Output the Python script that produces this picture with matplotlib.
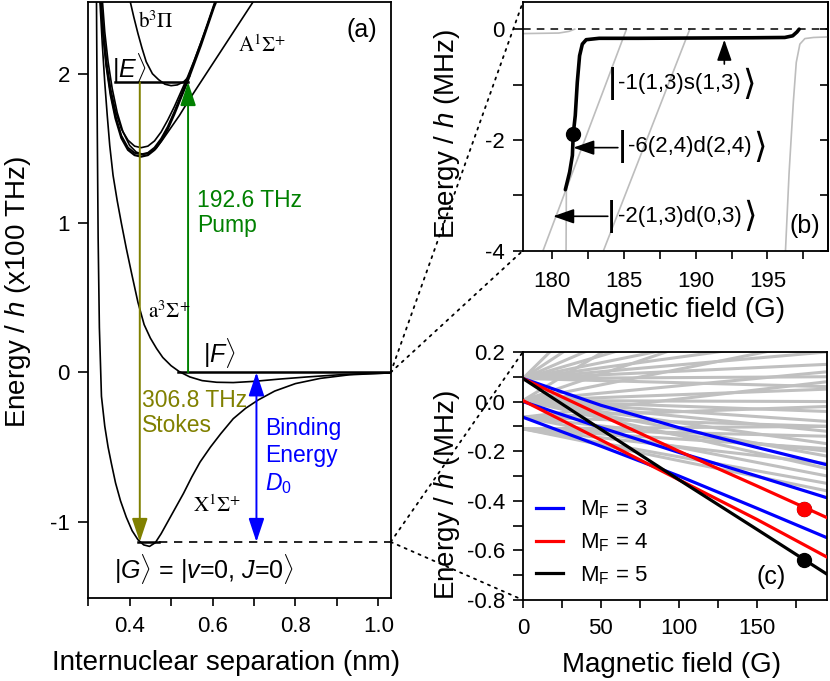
import matplotlib
matplotlib.use("Agg")
import matplotlib.pyplot as plt
from matplotlib.patches import ConnectionPatch
from matplotlib.offsetbox import TextArea, HPacker, AnnotationBbox
from matplotlib.ticker import MultipleLocator, FormatStrFormatter

plt.rcParams["font.family"] = ["Liberation Sans", "DejaVu Sans"]
plt.rcParams["mathtext.fontset"] = "custom"
plt.rcParams["mathtext.rm"] = "Liberation Sans"
plt.rcParams["mathtext.it"] = "Liberation Sans:italic"
plt.rcParams["mathtext.bf"] = "Liberation Sans:bold"
plt.rcParams["axes.unicode_minus"] = False
plt.rcParams["font.size"] = 16

# ---------------- panel (a): potential curves (x100 THz vs nm) ----------------
x_state_r = [0.320, 0.322, 0.324, 0.327, 0.332, 0.340, 0.348, 0.356, 0.366, 0.378,
             0.392, 0.406, 0.420, 0.434, 0.448, 0.462, 0.476, 0.492, 0.510, 0.530,
             0.550, 0.570, 0.595, 0.620, 0.650, 0.680, 0.710, 0.750, 0.800, 0.860,
             0.930, 1.030]
x_state_e = [2.50, 1.60, 0.90, 0.30, -0.16, -0.36, -0.50, -0.61, -0.74, -0.86,
             -0.97, -1.06, -1.12, -1.155, -1.165, -1.14, -1.08, -1.00, -0.91, -0.81,
             -0.70, -0.60, -0.50, -0.41, -0.31, -0.24, -0.185, -0.125, -0.075, -0.040,
             -0.016, -0.003]

a_state_r = [0.328, 0.334, 0.340, 0.346, 0.352, 0.360, 0.370, 0.380, 0.392, 0.405,
             0.420, 0.435, 0.450, 0.465, 0.480, 0.500, 0.520, 0.545, 0.575, 0.610,
             0.650, 0.700, 0.760, 0.830, 0.900, 0.970, 1.030]
a_state_e = [2.50, 2.20, 1.94, 1.72, 1.52, 1.32, 1.15, 1.00, 0.83, 0.66,
             0.47, 0.32, 0.23, 0.16, 0.10, 0.045, 0.005, -0.03, -0.055, -0.066,
             -0.068, -0.060, -0.045, -0.030, -0.017, -0.008, -0.004]

A_state_r = [0.334, 0.340, 0.348, 0.358, 0.370, 0.384, 0.400, 0.416, 0.432, 0.448,
             0.464, 0.480, 0.500, 0.520, 0.540, 0.580, 0.620, 0.660, 0.700, 0.710]
A_state_e = [2.50, 2.28, 2.08, 1.90, 1.74, 1.61, 1.52, 1.475, 1.46, 1.47,
             1.50, 1.56, 1.64, 1.72, 1.81, 1.98, 2.15, 2.32, 2.49, 2.53]

b_comp_r = [0.330, 0.336, 0.344, 0.354, 0.366, 0.380, 0.396, 0.412, 0.428, 0.444,
            0.460, 0.476, 0.492, 0.508, 0.524, 0.540, 0.556, 0.572, 0.588, 0.604, 0.616]
b_comp1_e = [2.50, 2.27, 2.05, 1.86, 1.70, 1.57, 1.49, 1.455, 1.445, 1.455,
             1.49, 1.55, 1.63, 1.73, 1.84, 1.95, 2.07, 2.19, 2.32, 2.45, 2.53]
b_comp2_e = [2.51, 2.28, 2.06, 1.875, 1.715, 1.585, 1.505, 1.47, 1.46, 1.47,
             1.505, 1.565, 1.645, 1.745, 1.855, 1.965, 2.085, 2.205, 2.335, 2.465, 2.545]
b_comp3_e = [2.50, 2.29, 2.08, 1.90, 1.75, 1.63, 1.555, 1.515, 1.505, 1.515,
             1.55, 1.61, 1.69, 1.78, 1.88, 1.98, 2.09, 2.21, 2.33, 2.46, 2.54]

b_pi_r = [0.400, 0.410, 0.420, 0.430, 0.440, 0.455, 0.470, 0.485, 0.500, 0.515, 0.530, 0.545]
b_pi_e = [2.50, 2.38, 2.27, 2.17, 2.08, 2.00, 1.96, 1.93, 1.92, 1.925, 1.945, 1.985]

level_E = 1.944
level_E_r = [0.364, 0.541]
level_F = 0.0
level_F_r = [0.517, 1.03]
level_G = -1.135
level_G_solid_r = [0.42, 0.47]
level_G_dash_r = [0.47, 1.03]
stokes_r = 0.4245
pump_r = 0.541
binding_r = 0.706

# ---------------- panel (b): Feshbach ramp near 181 G ----------------
b_main_field = [180.95, 181.25, 181.44, 181.5, 181.64, 181.78, 181.94, 182.13, 182.4,
                183.3, 186.0, 190.0, 194.0, 196.2, 196.75, 197.05, 197.2]
b_main_energy = [-2.90, -2.58, -2.28, -1.89, -1.56, -0.96, -0.48, -0.27, -0.19,
                 -0.165, -0.165, -0.16, -0.155, -0.15, -0.12, -0.05, 0.0]
b_gray_fields = [[178.0, 180.5, 181.2, 181.6],
                 [179.4, 185.2],
                 [181.0, 181.02],
                 [183.6, 189.6],
                 [196.25, 196.5, 196.8, 197.0, 197.25, 197.6, 198.2, 199.2]]
b_gray_energies = [[-0.08, -0.07, -0.04, 0.0],
                   [-4.0, 0.0],
                   [-4.0, -2.9],
                   [-4.0, 0.0],
                   [-4.0, -2.6, -1.3, -0.6, -0.27, -0.17, -0.15, -0.14]]
b_dot = (181.5, -1.89)
b_state_names = ["-1(1,3)s(1,3)", "-6(2,4)d(2,4)", "-2(1,3)d(0,3)"]
b_state_pos = [(183.9, -0.99), (184.6, -2.12), (183.85, -3.38)]

# ---------------- panel (c): Zeeman levels ----------------
c_field = [0, 50, 100, 150, 195]
mf3_energies = [[0.093, -0.015, -0.105, -0.185, -0.255],
                [0.000, -0.105, -0.205, -0.300, -0.388],
                [-0.063, -0.180, -0.300, -0.430, -0.549]]
mf4_energies = [[0.093, -0.055, -0.200, -0.340, -0.468],
                [0.004, -0.155, -0.315, -0.475, -0.627]]
mf5_energies = [0.093, -0.112, -0.315, -0.515, -0.696]
c_gray_field = [0, 195]
c_gray_start = [0.093] * 10 + [0.004] * 12 + [-0.063] * 5 + [-0.11] * 6
c_gray_end = [1.30, 0.90, 0.62, 0.45, 0.34, 0.26, 0.20, 0.15, 0.10, 0.06,
              0.75, 0.42, 0.25, 0.12, 0.05, 0.0, -0.04, -0.08, -0.12, -0.17, -0.22, -0.27,
              0.08, -0.02, -0.10, -0.20, -0.30,
              -0.10, -0.14, -0.19, -0.25, -0.33, -0.36]
c_dot_field = [180.5, 180.5]
c_dot_energy = [-0.432, -0.638]

fig = plt.figure(figsize=(8.3, 6.81), dpi=100)
ax_a = fig.add_axes([0.106, 0.122, 0.365, 0.875])
ax_b = fig.add_axes([0.630, 0.632, 0.3675, 0.365])
ax_c = fig.add_axes([0.630, 0.119, 0.3663, 0.3642])


def style(ax, xpad=7):
    for sp in ax.spines.values():
        sp.set_linewidth(1.3)
    ax.tick_params(which="both", direction="out", length=6.5, width=1.2,
                   labelsize=16, top=False, right=False)
    ax.tick_params(axis="x", which="both", pad=xpad, length=6)
    ax.tick_params(axis="y", which="both", pad=6, length=7)


def ket(ax, name, xy):
    # tall bar and bracket around the state label
    parts = [TextArea("|", textprops=dict(fontsize=25)),
             TextArea(name, textprops=dict(fontsize=16)),
             TextArea("\u27e9", textprops=dict(fontsize=25, family="DejaVu Sans"))]
    box = HPacker(children=parts, align="center", pad=0, sep=1)
    ab = AnnotationBbox(box, xy, xycoords="data", box_alignment=(0, 0.5),
                        frameon=False, pad=0)
    ax.add_artist(ab)


# ---- (a)
lw = 1.2
ax_a.plot(x_state_r, x_state_e, color="k", lw=lw)
ax_a.plot(a_state_r, a_state_e, color="k", lw=lw)
ax_a.plot(A_state_r, A_state_e, color="k", lw=lw)
ax_a.plot(b_comp_r, b_comp1_e, color="k", lw=1.6)
ax_a.plot(b_comp_r, b_comp2_e, color="k", lw=1.4)
ax_a.plot(b_comp_r, b_comp3_e, color="k", lw=lw)
ax_a.plot(b_pi_r, b_pi_e, color="k", lw=lw)
ax_a.plot(level_E_r, [level_E, level_E], color="k", lw=1.8)
ax_a.plot(level_F_r, [level_F, level_F], color="k", lw=1.8)
ax_a.plot(level_G_solid_r, [level_G, level_G], color="k", lw=1.8)
ax_a.plot(level_G_dash_r, [level_G, level_G], color="k", lw=1.2, ls=(0, (5, 4)))

ax_a.annotate("", xy=(stokes_r, level_G), xytext=(stokes_r, level_E),
              arrowprops=dict(arrowstyle="-|>,head_length=0.9,head_width=0.3",
                              color="#808000", lw=1.4, shrinkA=0, shrinkB=0))
ax_a.annotate("", xy=(pump_r, level_E), xytext=(pump_r, level_F),
              arrowprops=dict(arrowstyle="-|>,head_length=0.9,head_width=0.3",
                              color="#008000", lw=1.4, shrinkA=0, shrinkB=0))
ax_a.annotate("", xy=(binding_r, level_G), xytext=(binding_r, level_F),
              arrowprops=dict(arrowstyle="<|-|>,head_length=0.9,head_width=0.3",
                              color="#0000ff", lw=1.4, shrinkA=0, shrinkB=0))

ax_a.text(0.562, 1.23, "192.6 THz\nPump", color="#008000", fontsize=16.5,
          va="top", ha="left", linespacing=1.1)
ax_a.text(0.430, -0.114, "306.8 THz\nStokes", color="#808000", fontsize=16.5,
          va="top", ha="left", linespacing=1.1)
ax_a.text(0.727, -0.30, "Binding\nEnergy\n$D_{\\mathit{0}}$", color="#0000ff",
          fontsize=16.5, va="top", ha="left", linespacing=1.2)

serif = dict(math_fontfamily="stix", fontsize=15, va="center", ha="left")
ax_a.text(0.420, 2.35, r"$\mathrm{b}^{3}\Pi$", **serif)
ax_a.text(0.661, 2.19, r"$\mathrm{A}^{1}\Sigma^{+}$", **serif)
ax_a.text(0.445, 0.41, r"$\mathrm{a}^{3}\Sigma^{+}$", **serif)
ax_a.text(0.553, -0.886, r"$\mathrm{X}^{1}\Sigma^{+}$", **serif)
ax_a.text(0.358, 2.04, r"$|E\rangle$", fontsize=18, va="center", ha="left")
ax_a.text(0.577, 0.13, r"$|F\rangle$", fontsize=18, va="center", ha="left")
ax_a.text(0.362, -1.315, r"$|G\rangle$ = $|v$=$\mathit{0}$, $J$=$\mathit{0}\rangle$",
          fontsize=18, va="center", ha="left")
ax_a.text(0.904, 0.953, "(a)", transform=ax_a.transAxes, fontsize=18,
          ha="center", va="center")

ax_a.set_xlim(0.2995, 1.0305)
ax_a.set_ylim(-1.51, 2.48)
ax_a.xaxis.set_major_locator(MultipleLocator(0.2))
ax_a.xaxis.set_minor_locator(MultipleLocator(0.1))
ax_a.xaxis.set_major_formatter(FormatStrFormatter("%.1f"))
ax_a.set_yticks([-1, 0, 1, 2])
style(ax_a)
ax_a.set_xlabel("Internuclear separation (nm)", fontsize=20)
ax_a.set_ylabel("Energy / $h$ (x100 THz)", fontsize=20)
ax_a.xaxis.set_label_coords(0.455, -0.088)
ax_a.yaxis.set_label_coords(-0.18, 0.513)

# ---- (b)
for f, e in zip(b_gray_fields, b_gray_energies):
    ax_b.plot(f, e, color="#bdbdbd", lw=1.2, zorder=1)
ax_b.axhline(0, color="k", lw=1.1, ls=(0, (5, 4)), zorder=2)
ax_b.plot(b_main_field, b_main_energy, color="k", lw=2.6, zorder=3,
          solid_capstyle="round")
ax_b.plot([b_dot[0]], [b_dot[1]], "o", color="k", ms=10, zorder=4)

arrow_kw = dict(arrowstyle="-|>,head_length=0.8,head_width=0.28", color="k",
                lw=1.2, shrinkA=0, shrinkB=0)
ax_b.annotate("", xy=(192.0, -0.19), xytext=(192.0, -0.63), arrowprops=arrow_kw)
ax_b.annotate("", xy=(181.5, -2.14), xytext=(184.6, -2.14), arrowprops=arrow_kw)
ax_b.annotate("", xy=(180.1, -3.38), xytext=(183.9, -3.38), arrowprops=arrow_kw)
for name, pos in zip(b_state_names, b_state_pos):
    ket(ax_b, name, pos)
ax_b.text(0.925, 0.097, "(b)", transform=ax_b.transAxes, fontsize=18,
          ha="center", va="center")

ax_b.set_xlim(178.0, 199.2)
ax_b.set_ylim(-4.0, 0.49)
ax_b.xaxis.set_major_locator(MultipleLocator(5))
ax_b.xaxis.set_minor_locator(MultipleLocator(2.5))
ax_b.yaxis.set_major_locator(MultipleLocator(2))
ax_b.yaxis.set_minor_locator(MultipleLocator(1))
style(ax_b, xpad=9)
sec = ax_b.secondary_yaxis("right")
sec.yaxis.set_major_locator(MultipleLocator(1))
sec.tick_params(direction="in", length=6, width=1.2, labelright=False)
sec.spines["right"].set_linewidth(1.3)
ax_b.set_xlabel("Magnetic field (G)", fontsize=20)
ax_b.set_ylabel("Energy / $h$ (MHz)", fontsize=20)
ax_b.xaxis.set_label_coords(0.5, -0.185)
ax_b.yaxis.set_label_coords(-0.20, 0.47)

# ---- (c)
for s, e in zip(c_gray_start, c_gray_end):
    ax_c.plot(c_gray_field, [s, e], color="#c0c0c0", lw=2.2, zorder=1)
for i, e in enumerate(mf3_energies):
    ax_c.plot(c_field, e, color="#0000ff", lw=2.3, zorder=2,
              label=r"M$_\mathrm{F}$ = 3" if i == 0 else None)
for i, e in enumerate(mf4_energies):
    ax_c.plot(c_field, e, color="#ff0000", lw=2.3, zorder=3,
              label=r"M$_\mathrm{F}$ = 4" if i == 0 else None)
ax_c.plot(c_field, mf5_energies, color="k", lw=2.3, zorder=4,
          label=r"M$_\mathrm{F}$ = 5")
ax_c.plot(c_dot_field, c_dot_energy, "o", ls="none", ms=10, zorder=5,
          color="k")
ax_c.plot(c_dot_field[:1], c_dot_energy[:1], "o", ms=10, zorder=6, color="#ff0000")
ax_c.text(0.818, 0.094, "(c)", transform=ax_c.transAxes, fontsize=18,
          ha="center", va="center")
ax_c.legend(loc="lower left", frameon=False, fontsize=16, handlelength=1.2,
            handletextpad=0.75, labelspacing=0.45, borderaxespad=0.2,
            bbox_to_anchor=(0.0, 0.0))

ax_c.set_xlim(0, 195)
ax_c.set_ylim(-0.8, 0.2)
ax_c.xaxis.set_major_locator(MultipleLocator(50))
ax_c.xaxis.set_minor_locator(MultipleLocator(25))
ax_c.yaxis.set_major_locator(MultipleLocator(0.2))
ax_c.yaxis.set_minor_locator(MultipleLocator(0.1))
ax_c.yaxis.set_major_formatter(FormatStrFormatter("%.1f"))
style(ax_c)
ax_c.set_xlabel("Magnetic field (G)", fontsize=20)
ax_c.set_ylabel("Energy / $h$ (MHz)", fontsize=20)
ax_c.xaxis.set_label_coords(0.49, -0.21)
ax_c.yaxis.set_label_coords(-0.20, 0.423)

# ---- dotted zoom connectors
for ax_t, y0 in ((ax_b, level_F), (ax_c, level_G)):
    for corner in ((0, 1), (0, 0)):
        con = ConnectionPatch(xyA=(1.03, y0), coordsA=ax_a.transData,
                              xyB=corner, coordsB=ax_t.transAxes,
                              color="k", lw=1.3, ls=(0, (1.2, 3)), zorder=10)
        fig.add_artist(con)

fig.savefig("out.png", dpi=100)
plt.close(fig)
